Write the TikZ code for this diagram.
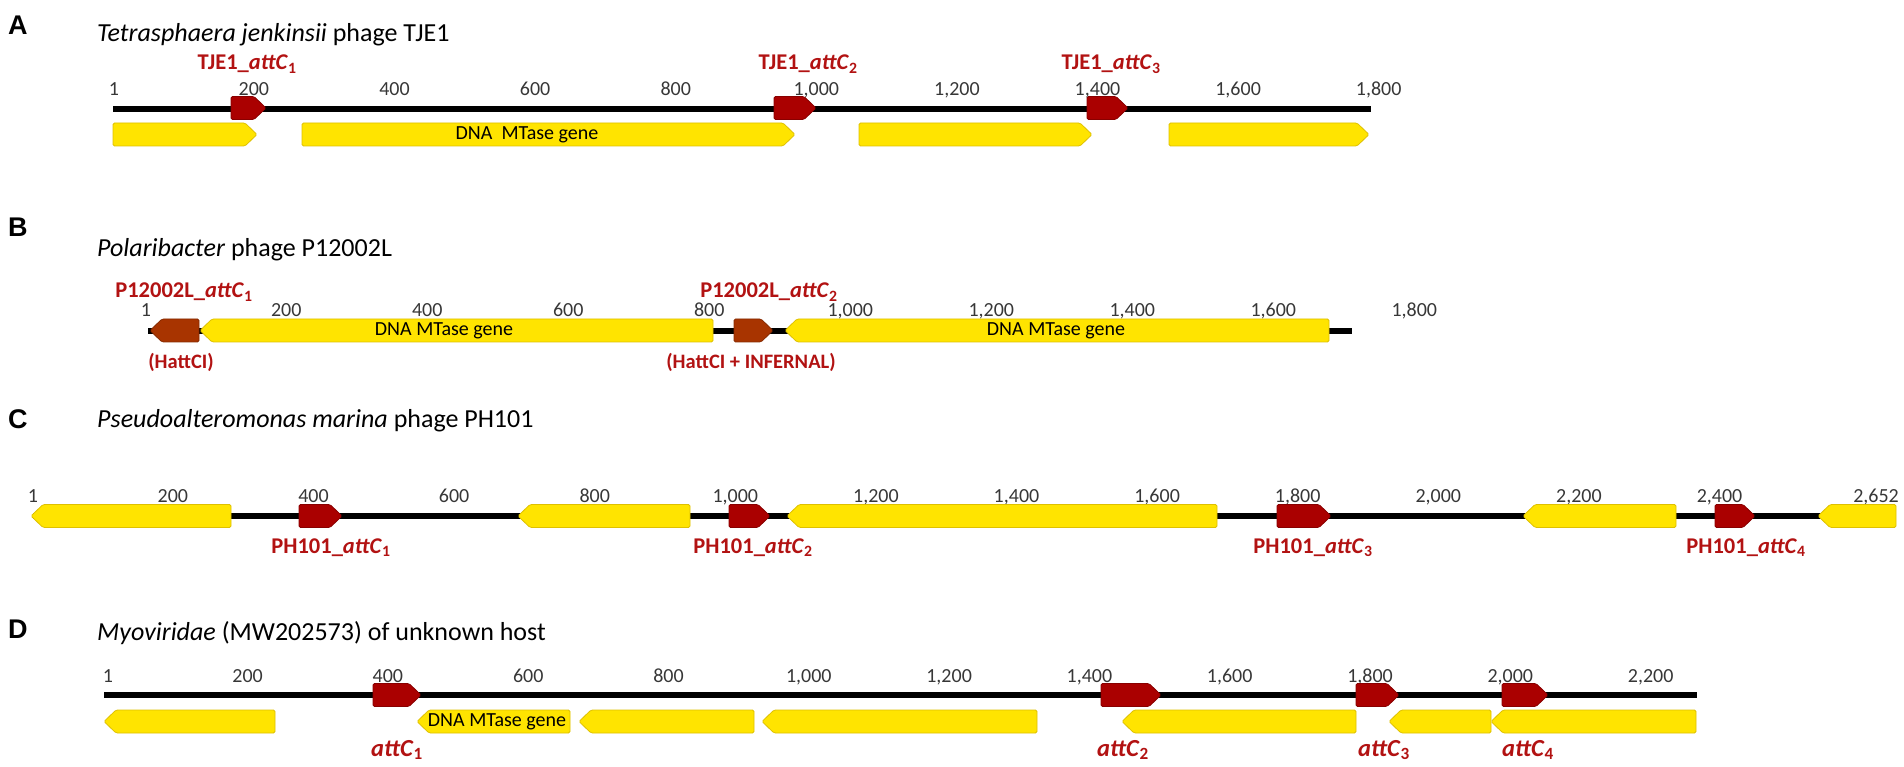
\documentclass[tikz,border=0pt]{standalone}
\usepackage{fontspec}
\setmainfont{Carlito}
\newfontfamily\letterfont{Liberation Sans}
\definecolor{attcred}{RGB}{170,0,0}
\definecolor{attcbrown}{RGB}{168,52,0}
\definecolor{labelred}{RGB}{178,18,18}
\definecolor{geneyellow}{RGB}{255,228,0}
\definecolor{geneedge}{RGB}{222,192,0}
\definecolor{tickgray}{RGB}{55,55,55}
% gene arrows: style, left x, right x, centre y
\newcommand{\fwdbox}[4]{\draw[#1] (#2,{#4-11.5}) -- ({#3-12},{#4-11.5}) -- (#3,#4) -- ({#3-12},{#4+11.5}) -- (#2,{#4+11.5}) -- cycle;}
\newcommand{\revbox}[4]{\draw[#1] (#3,{#4-11.5}) -- ({#2+12},{#4-11.5}) -- (#2,#4) -- ({#2+12},{#4+11.5}) -- (#3,{#4+11.5}) -- cycle;}
\begin{document}
\begin{tikzpicture}[x=1pt,y=-1pt,
  backbone/.style={line width=5.5pt},
  gene/.style={fill=geneyellow, draw=geneedge, line width=0.8pt, rounded corners=1.5pt},
  attc/.style={fill=attcred, draw=attcred!80!black, line width=0.8pt, rounded corners=1.5pt},
  attcb/.style={fill=attcbrown, draw=attcbrown!80!black, line width=0.8pt, rounded corners=1.5pt},
  panel/.style={anchor=base west, inner sep=0, font=\letterfont\bfseries\fontsize{27}{30}\selectfont},
  title/.style={anchor=base west, inner sep=0, font=\fontsize{26}{30}\selectfont},
  attlab/.style={anchor=base, inner sep=0, text=labelred, font=\bfseries\fontsize{22.5}{26}\selectfont},
  hattlab/.style={attlab, font=\bfseries\fontsize{20.5}{24}\selectfont},
  dattlab/.style={attlab, font=\bfseries\fontsize{24.5}{28}\selectfont},
  tick/.style={anchor=base, inner sep=0, text=tickgray, font=\fontsize{20}{24}\selectfont},
  genetext/.style={inner sep=0, font=\fontsize{20}{24}\selectfont}]
\useasboundingbox (0,0) rectangle (1904,767);

% A
\node[panel] (letA) at (8,35) {A};
\node[title] (titleA) at (97,42) {\textit{Tetrasphaera jenkinsii} phage TJE1};
\foreach \p/\t in {1/1,200/200,400/400,600/600,800/800,1000/{1,000},1200/{1,200},1400/{1,400},1600/{1,600},1800/{1,800}}
  \node[tick] at ({114+(\p-1)*0.703},96) {\t};
\coordinate (a0) at (113,109);
\coordinate (a1) at (1371,109);
\draw[backbone] (a0) -- (a1);
\fwdbox{gene}{113}{257}{134.5}
\fwdbox{gene}{302}{795}{134.5}
\fwdbox{gene}{859}{1092}{134.5}
\fwdbox{gene}{1169}{1369}{134.5}
\node[genetext] (mtaseA) at (527,135) {DNA~ MTase gene};
\fwdbox{attc}{231}{266}{108}
\fwdbox{attc}{774}{816}{108}
\fwdbox{attc}{1087}{1128}{108}
\node[attlab] (tjeone) at (247,70) {TJE1\_\textit{attC}\textsubscript{1}};
\node[attlab] (tjetwo) at (808,70) {TJE1\_\textit{attC}\textsubscript{2}};
\node[attlab] (tjethree) at (1111,70) {TJE1\_\textit{attC}\textsubscript{3}};

% B
\node[panel] (letB) at (8,237) {B};
\node[title] (titleB) at (97,257) {\textit{Polaribacter} phage P12002L};
\foreach \p/\t in {1/1,200/200,400/400,600/600,800/800,1000/{1,000},1200/{1,200},1400/{1,400},1600/{1,600},1800/{1,800}}
  \node[tick] at ({146+(\p-1)*0.705},317) {\t};
\coordinate (b0) at (148,331);
\coordinate (b1) at (1352,331);
\draw[backbone] (b0) -- (b1);
\revbox{attcb}{150}{199}{330.5}
\revbox{gene}{200}{713}{330.5}
\node[genetext] (mtaseB1) at (444,331) {DNA MTase gene};
\fwdbox{attcb}{734}{773}{330.5}
\revbox{gene}{785}{1329}{330.5}
\node[genetext] (mtaseB2) at (1056,331) {DNA MTase gene};
\node[attlab] (p12one) at (184,298) {P12002L\_\textit{attC}\textsubscript{1}};
\node[attlab] (p12two) at (769,298) {P12002L\_\textit{attC}\textsubscript{2}};
\node[hattlab] (hattone) at (181,369) {(HattCI)};
\node[hattlab] (hatttwo) at (751,369) {(HattCI + INFERNAL)};

% C
\node[panel] (letC) at (8,428) {C};
\node[title] (titleC) at (97,427) {\textit{Pseudoalteromonas marina} phage PH101};
\foreach \p/\t in {1/1,200/200,400/400,600/600,800/800,1000/{1,000},1200/{1,200},1400/{1,400},1600/{1,600},1800/{1,800},2000/{2,000},2200/{2,200},2400/{2,400}}
  \node[tick] at ({33+(\p-1)*0.703},502) {\t};
\node[tick, anchor=base east] (endC) at (1899,502) {2,652};
\coordinate (c0) at (33,516);
\coordinate (c1) at (1896,516);
\draw[backbone] (c0) -- (c1);
\revbox{gene}{31}{231}{516}
\revbox{gene}{518}{690}{516}
\revbox{gene}{787}{1217}{516}
\revbox{gene}{1523}{1676}{516}
\revbox{gene}{1818}{1896}{516}
\fwdbox{attc}{299}{342}{516}
\fwdbox{attc}{729}{770}{516}
\fwdbox{attc}{1277}{1331}{516}
\fwdbox{attc}{1715}{1755}{516}
\node[attlab] (phone) at (331,553) {PH101\_\textit{attC}\textsubscript{1}};
\node[attlab] (phtwo) at (753,553) {PH101\_\textit{attC}\textsubscript{2}};
\node[attlab] (phthree) at (1313,553) {PH101\_\textit{attC}\textsubscript{3}};
\node[attlab] (phfour) at (1746,553) {PH101\_\textit{attC}\textsubscript{4}};

% D
\node[panel] (letD) at (8,638) {D};
\node[title] (titleD) at (97,640) {\textit{Myoviridae} (MW202573) of unknown host};
\foreach \p/\t in {1/1,200/200,400/400,600/600,800/800,1000/{1,000},1200/{1,200},1400/{1,400},1600/{1,600},1800/{1,800},2000/{2,000},2200/{2,200}}
  \node[tick] at ({108+(\p-1)*0.7015},682) {\t};
\coordinate (d0) at (104,695);
\coordinate (d1) at (1697,695);
\draw[backbone] (d0) -- (d1);
\revbox{gene}{104}{275}{721.5}
\revbox{gene}{417}{570}{721.5}
\node[genetext] (mtaseD) at (497,722) {DNA MTase gene};
\revbox{gene}{579}{754}{721.5}
\revbox{gene}{762}{1037}{721.5}
\revbox{gene}{1122}{1356}{721.5}
\revbox{gene}{1389}{1491}{721.5}
\revbox{gene}{1491}{1696}{721.5}
\fwdbox{attc}{373}{421}{695}
\fwdbox{attc}{1101}{1161}{695}
\fwdbox{attc}{1356}{1399}{695}
\fwdbox{attc}{1502}{1548}{695}
\node[dattlab] (dattone) at (397,756) {\textit{attC}\textsubscript{1}};
\node[dattlab] (datttwo) at (1123,756) {\textit{attC}\textsubscript{2}};
\node[dattlab] (dattthree) at (1384,756) {\textit{attC}\textsubscript{3}};
\node[dattlab] (dattfour) at (1528,756) {\textit{attC}\textsubscript{4}};
\end{tikzpicture}
\end{document}
